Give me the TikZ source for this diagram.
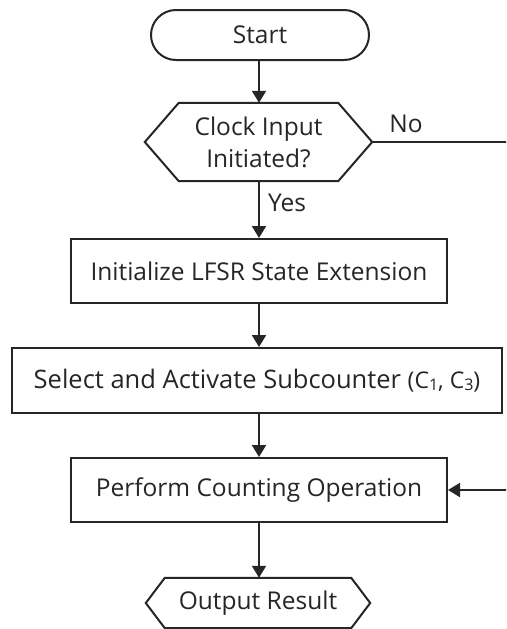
\documentclass[tikz,border=0pt]{standalone}
\usepackage{fontspec}
\setmainfont{Open Sans}
\usetikzlibrary{arrows.meta,calc}
\newcommand{\mysub}[1]{\raisebox{-2.5pt}{\fontsize{16}{18}\selectfont #1}}
\begin{document}
\begin{tikzpicture}[x=1pt,y=-1pt,
  every node/.style={font=\fontsize{24.5}{32}\selectfont, text=black!85},
  shp/.style={draw=black!85, line width=2pt, inner sep=0pt},
  hid/.style={draw=none, inner sep=0pt},
  conn/.style={draw=black!85, line width=2pt, -{Triangle[length=12pt,width=14pt]}},
  line/.style={draw=black!85, line width=2pt},
  lab/.style={inner sep=0pt}
]
\useasboundingbox (0,0) rectangle (506,629);
\clip (0,0) rectangle (506,629);
\fill[white] (0,0) rectangle (506,629);

% Start
\node[shp, rounded corners=25pt, minimum width=218pt, minimum height=50pt] (start) at (260,35) {Start};

% Decision
\node[hid, minimum width=227pt, minimum height=78pt, align=center] (dec) at (258.5,142) {Clock Input\\Initiated?};
\draw[line, line join=miter] (dec.west) -- ([xshift=34pt]dec.north west) -- ([xshift=-34pt]dec.north east) -- (dec.east) -- ([xshift=-34pt]dec.south east) -- ([xshift=34pt]dec.south west) -- cycle;

% Boxes
\node[shp, minimum width=376pt, minimum height=64pt] (box1) at (259,271) {Initialize LFSR State Extension};
\node[shp, minimum width=490pt, minimum height=65pt] (box2) at (257,380.5) {\fontsize{25.5}{32}\selectfont Select and Activate Subcounter {\fontsize{23}{26}\selectfont(C\mysub{1}, C\mysub{3})}};
\node[shp, minimum width=376pt, minimum height=64pt] (box3) at (259,490) {Perform Counting Operation};

% Output
\node[hid, minimum width=224pt, minimum height=50pt] (out) at (258,603) {Output Result};
\draw[line, line join=miter] (out.west) -- ([xshift=19pt]out.north west) -- ([xshift=-19pt]out.north east) -- (out.east) -- ([xshift=-19pt]out.south east) -- ([xshift=19pt]out.south west) -- cycle;

% Labels
\node[lab] (no) at (406,124) {No};
\node[lab] (yes) at (287,203) {Yes};

% Connectors
\coordinate (rx) at (540,0);
\draw[conn] (start.south -| 259,0) -- (259,0 |- dec.north);
\draw[conn] (259,0 |- dec.south) -- (259,0 |- box1.north);
\draw[conn] (259,0 |- box1.south) -- (259,0 |- box2.north);
\draw[conn] (259,0 |- box2.south) -- (259,0 |- box3.north);
\draw[conn] (259,0 |- box3.south) -- (259,0 |- out.north);
\draw[conn] (dec.east) -- (dec.east -| rx) |- (box3.east);
\end{tikzpicture}
\end{document}
